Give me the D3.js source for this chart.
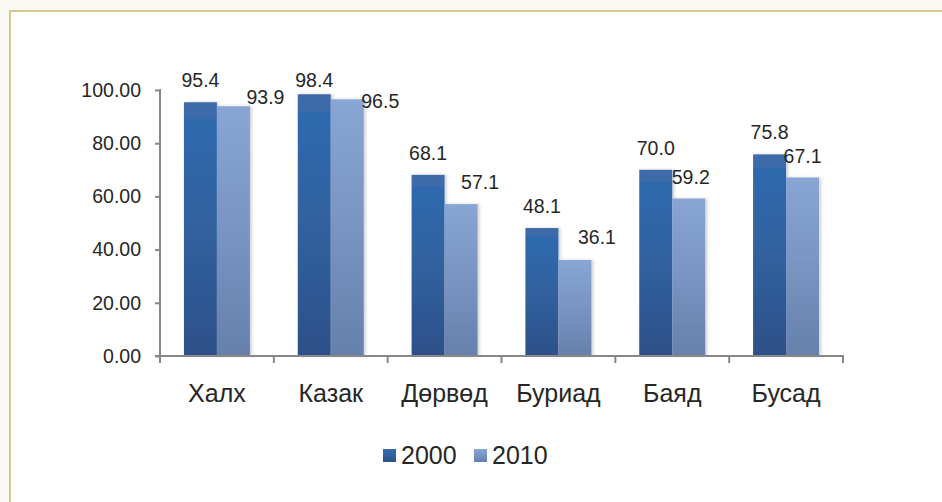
<!DOCTYPE html>
<html>
<head>
<meta charset="utf-8">
<script src="https://cdn.jsdelivr.net/npm/d3@7"></script>
<style>
  html, body { margin: 0; padding: 0; background: #faf9f4; }
  svg { display: block; font-family: "Liberation Sans", Arial, sans-serif; }
</style>
</head>
<body>
<div id="vis"></div>
<script>
// data
var categories = ['Халх', 'Казак', 'Дөрвөд', 'Буриад', 'Баяд', 'Бусад'];
var seriesNames = ['2000', '2010'];
var values2000 = [95.4, 98.4, 68.1, 48.1, 70.0, 75.8];
var values2010 = [93.9, 96.5, 57.1, 36.1, 59.2, 67.1];
var yTicks = [0, 20, 40, 60, 80, 100];

// layout
var width = 942, height = 502;
var plot = { left: 160, right: 843, top: 90, bottom: 356 };
var barW = 33;
var labelTop = 73; // labels cannot climb above the plot area
// hand-placed label nudges [dx, dy] from the default spot above each bar
var nudge2000 = [[0, 0], [0, 0], [0, 0], [0, 0], [0, 0], [0, 0]];
var nudge2010 = [[32, 13], [33, 21], [19, 0], [22, -1], [2, 0], [0, 0]];

var svg = d3.select('#vis')
    .append('svg')
        .attr('width', width)
        .attr('height', height);

var defs = svg.append('defs');

function addGradient(id, stops)
{
    var g = defs.append('linearGradient')
        .attr('id', id)
        .attr('x1', 0).attr('y1', 0)
        .attr('x2', 0).attr('y2', 1);
    stops.forEach(function(s) {
        g.append('stop').attr('offset', s[0]).attr('stop-color', s[1]);
    });
}
addGradient('g2000', [[0, '#3f6ba8'], [0.06, '#3d6aa8'], [0.07, '#2f69ae'], [0.5, '#30619f'], [1, '#2d5088']]);
addGradient('g2010', [[0, '#88a5d3'], [0.5, '#7994c3'], [1, '#6680ac']]);

var shadow = defs.append('filter').attr('id', 'shadow')
    .attr('x', '-20%').attr('y', '-5%').attr('width', '150%').attr('height', '110%');
shadow.append('feDropShadow')
    .attr('dx', 2).attr('dy', 0).attr('stdDeviation', 1.5)
    .attr('flood-color', '#000').attr('flood-opacity', 0.18);

// outer frame
svg.append('rect')
    .attr('x', 10).attr('y', 11)
    .attr('width', width).attr('height', height)
    .attr('fill', '#ffffff')
    .attr('stroke', '#d8c68f')
    .attr('stroke-width', 2);

var x = d3.scaleBand()
    .domain(categories)
    .range([plot.left, plot.right]);

var xSub = d3.scaleBand()
    .domain(seriesNames)
    .range([x.bandwidth() / 2 - barW, x.bandwidth() / 2 + barW]);

var y = d3.scaleLinear()
    .domain([0, 100])
    .range([plot.bottom, plot.top]);

var rows = categories.map(function(c, i) {
    return { cat: c, i: i, v: [values2000[i], values2010[i]] };
});

// bars
var groups = svg.append('g').selectAll('g')
    .data(rows)
    .enter()
    .append('g')
        .attr('transform', function(d) { return 'translate(' + x(d.cat) + ',0)'; });

groups.selectAll('rect')
    .data(function(d) { return d.v.map(function(v, k) { return { v: v, s: seriesNames[k] }; }); })
    .enter()
    .append('rect')
        .attr('x', function(d) { return xSub(d.s); })
        .attr('y', function(d) { return y(d.v); })
        .attr('width', xSub.bandwidth())
        .attr('height', function(d) { return y(0) - y(d.v); })
        .attr('fill', function(d) { return 'url(#g' + d.s + ')'; })
        .attr('filter', 'url(#shadow)');

// value labels
groups.each(function(d) {
    var g = d3.select(this);
    var nudges = [nudge2000[d.i], nudge2010[d.i]];
    d.v.forEach(function(v, k) {
        var s = seriesNames[k];
        var by = Math.max(y(v) - 15, labelTop + 14);
        g.append('text')
            .attr('x', xSub(s) + xSub.bandwidth() / 2 + nudges[k][0])
            .attr('y', by + nudges[k][1])
            .attr('text-anchor', 'middle')
            .attr('font-size', 19.5)
            .attr('fill', '#262626')
            .text(v.toFixed(1));
    });
});

// axes
var axisColor = '#878787';
var yAxis = svg.append('g')
    .attr('transform', 'translate(' + plot.left + ',0)')
    .call(d3.axisLeft(y).tickValues(yTicks).tickSize(5).tickPadding(14)
        .tickFormat(function(t) { return t.toFixed(2); }));
yAxis.select('.domain').remove();
yAxis.selectAll('line').attr('stroke', axisColor).attr('stroke-width', 2);
yAxis.selectAll('text')
    .attr('font-size', 19.5)
    .attr('font-family', '"Liberation Sans", Arial, sans-serif')
    .attr('fill', '#262626');

svg.append('line')
    .attr('x1', plot.left).attr('x2', plot.left)
    .attr('y1', y(100) - 1).attr('y2', y(0) + 7)
    .attr('stroke', axisColor).attr('stroke-width', 2);

svg.append('line')
    .attr('x1', plot.left - 5).attr('x2', plot.right + 1)
    .attr('y1', y(0)).attr('y2', y(0))
    .attr('stroke', axisColor).attr('stroke-width', 2);

// category boundary ticks
var bounds = categories.map(function(c) { return x(c); }).concat([plot.right]);
svg.append('g').selectAll('line')
    .data(bounds.slice(1))
    .enter()
    .append('line')
        .attr('x1', function(d) { return d; }).attr('x2', function(d) { return d; })
        .attr('y1', y(0)).attr('y2', y(0) + 7)
        .attr('stroke', axisColor).attr('stroke-width', 2);

// category labels
svg.append('g').selectAll('text')
    .data(categories)
    .enter()
    .append('text')
        .attr('x', function(d) { return x(d) + x.bandwidth() / 2; })
        .attr('y', 402)
        .attr('text-anchor', 'middle')
        .attr('font-size', 25)
        .attr('fill', '#262626')
        .text(function(d) { return d; });

// legend
var legendX = [383, 474];
var legend = svg.append('g').selectAll('g')
    .data(seriesNames)
    .enter()
    .append('g')
        .attr('transform', function(d, i) { return 'translate(' + legendX[i] + ',449)'; });
legend.append('rect')
    .attr('width', 13).attr('height', 13)
    .attr('fill', function(d) { return 'url(#g' + d + ')'; });
legend.append('text')
    .attr('x', 18).attr('y', 15)
    .attr('font-size', 25)
    .attr('fill', '#262626')
    .text(function(d) { return d; });
</script>
</body>
</html>
